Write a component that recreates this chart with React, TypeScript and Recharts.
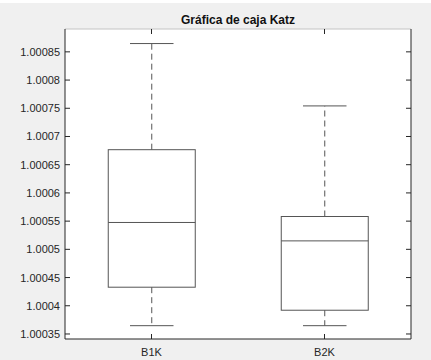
import React from 'react';
import { ComposedChart, Bar, XAxis, YAxis, CartesianGrid } from 'recharts';

const categories = ['B1K', 'B2K'];
const mins = [1.0003647, 1.0003647];
const q1s = [1.0004329, 1.0003921];
const medians = [1.0005476, 1.000515];
const q3s = [1.0006766, 1.0005582];
const maxs = [1.0008647, 1.0007542];

const yTicks = [1.00035, 1.0004, 1.00045, 1.0005, 1.00055, 1.0006, 1.00065, 1.0007, 1.00075, 1.0008, 1.00085];
const yTickLabels = ['1.00035', '1.0004', '1.00045', '1.0005', '1.00055', '1.0006', '1.00065', '1.0007', '1.00075', '1.0008', '1.00085'];
const yDomain: [number, number] = [1.0003411, 1.0008905];
const title = 'Gráfica de caja Katz';

const data = categories.map((name, i) => ({
  name,
  range: [mins[i], maxs[i]],
  min: mins[i],
  q1: q1s[i],
  median: medians[i],
  q3: q3s[i],
  max: maxs[i],
}));

const FONT = '"Liberation Sans", Arial, Helvetica, sans-serif';
const AXIS = '#262626';
const BOX = '#555555';

const LeftTick = (props: any) => {
  const { x, y, payload } = props;
  const idx = yTicks.indexOf(payload.value);
  const label = idx >= 0 ? yTickLabels[idx] : String(payload.value);
  return (
    <g>
      <line x1={x + 5} x2={x + 10} y1={y} y2={y} stroke={AXIS} strokeWidth={1} />
      <text x={x} y={y} dy={4} textAnchor="end" fontSize={11} fontFamily={FONT} fill={AXIS}>
        {label}
      </text>
    </g>
  );
};

const RightTick = (props: any) => {
  const { x, y } = props;
  return <line x1={x} x2={x - 5} y1={y} y2={y} stroke={AXIS} strokeWidth={1} />;
};

const BottomTick = (props: any) => {
  const { x, y, payload } = props;
  return (
    <g>
      <line x1={x} x2={x} y1={y} y2={y - 5} stroke={AXIS} strokeWidth={1} />
      <text x={x} y={y + 17} textAnchor="middle" fontSize={11} fontFamily={FONT} fill={AXIS}>
        {payload.value}
      </text>
    </g>
  );
};

const TopTick = (props: any) => {
  const { x, y } = props;
  return <line x1={x} x2={x} y1={y} y2={y + 5} stroke={AXIS} strokeWidth={1} />;
};

const TitleLabel = (props: any) => {
  const vb = props.viewBox || {};
  const cx = (vb.x || 0) + (vb.width || 0) / 2;
  return (
    <text x={cx} y={24} textAnchor="middle" fontSize={12} fontWeight="bold" fontFamily={FONT} fill="#111">
      {title}
    </text>
  );
};

const BoxShape = (props: any) => {
  const { x, y, width, height, payload } = props;
  if (!payload) return null;
  const lo = payload.min;
  const hi = payload.max;
  const pix = (v: number) => y + ((hi - v) / (hi - lo)) * height;
  const cx = x + width / 2;
  const capHalf = width / 4;
  const yMax = pix(payload.max);
  const yMin = pix(payload.min);
  const yQ3 = pix(payload.q3);
  const yQ1 = pix(payload.q1);
  const yMed = pix(payload.median);
  return (
    <g>
      <line x1={cx} x2={cx} y1={yQ3} y2={yMax} stroke={BOX} strokeWidth={1} strokeDasharray="6 4" />
      <line x1={cx} x2={cx} y1={yQ1} y2={yMin} stroke={BOX} strokeWidth={1} strokeDasharray="6 4" />
      <line x1={cx - capHalf} x2={cx + capHalf} y1={yMax} y2={yMax} stroke={BOX} strokeWidth={1} />
      <line x1={cx - capHalf} x2={cx + capHalf} y1={yMin} y2={yMin} stroke={BOX} strokeWidth={1} />
      <rect x={x} y={yQ3} width={width} height={yQ1 - yQ3} fill="none" stroke={BOX} strokeWidth={1} />
      <line x1={x} x2={x + width} y1={yMed} y2={yMed} stroke={BOX} strokeWidth={1} />
    </g>
  );
};

export default function App() {
  return (
    <div style={{ position: 'absolute', left: 0, top: 0, width: 431, height: 360, background: '#f0f0f0', overflow: 'hidden' }}>
      <div style={{ position: 'absolute', left: 0, top: 0, width: 431, height: 3, background: '#fff' }} />
      <ComposedChart
        width={431}
        height={360}
        data={data}
        margin={{ top: 0, right: 0, bottom: 0, left: 0 }}
        barCategoryGap="25%"
      >
        <CartesianGrid fill="#ffffff" horizontal={false} vertical={false} xAxisId="b" yAxisId="l" />
        <XAxis
          xAxisId="t"
          orientation="top"
          dataKey="name"
          height={29}
          tickSize={0}
          tickMargin={0}
          axisLine={{ stroke: '#c4c4c4' }}
          tick={<TopTick />}
          label={<TitleLabel />}
        />
        <XAxis
          xAxisId="b"
          orientation="bottom"
          dataKey="name"
          height={21}
          tickSize={0}
          tickMargin={0}
          axisLine={{ stroke: AXIS }}
          tick={<BottomTick />}
        />
        <YAxis
          yAxisId="l"
          orientation="left"
          type="number"
          domain={yDomain}
          ticks={yTicks}
          allowDataOverflow
          width={65}
          tickSize={0}
          tickMargin={5}
          axisLine={{ stroke: AXIS }}
          tick={<LeftTick />}
          interval={0}
        />
        <YAxis
          yAxisId="r"
          orientation="right"
          type="number"
          domain={yDomain}
          ticks={yTicks}
          allowDataOverflow
          width={20}
          tickSize={0}
          tickMargin={0}
          axisLine={{ stroke: AXIS }}
          tick={<RightTick />}
          interval={0}
        />
        <Bar
          xAxisId="b"
          yAxisId="l"
          dataKey="range"
          shape={<BoxShape />}
          isAnimationActive={false}
        />
      </ComposedChart>
    </div>
  );
}
